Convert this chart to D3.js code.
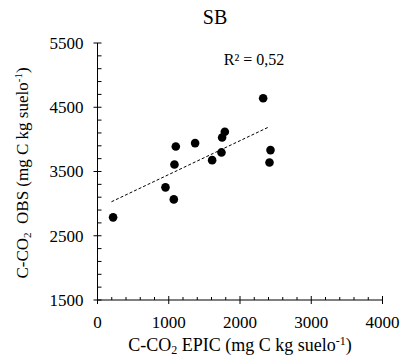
<!DOCTYPE html>
<html>
<head>
<meta charset="utf-8">
<script src="https://cdn.jsdelivr.net/npm/d3@7"></script>
<style>
  body { margin: 0; background: #fff; }
</style>
</head>
<body>
<svg id="chart" width="404" height="361" font-family="'Liberation Serif', 'Times New Roman', serif"></svg>
<script>
// data
var epic = [219, 954, 1071, 1080, 1099, 1370, 1609, 1740, 1749, 1787, 2325, 2428, 2414];
var obs  = [2786, 3253, 3066, 3610, 3890, 3942, 3677, 3797, 4030, 4118, 4641, 3833, 3641];
var trendX = [196, 2409];
var trendY = [3029, 4195];
var xTicks = [0, 1000, 2000, 3000, 4000];
var yTicks = [1500, 2500, 3500, 4500, 5500];
var r2Label = "R² = 0,52";

var svg = d3.select("#chart");

// scales
var x = d3.scaleLinear().domain([0, 4000]).range([97.5, 382.5]);
var y = d3.scaleLinear().domain([1500, 5500]).range([300, 43]);

var minorX = d3.range(0, 4001, 200).filter(function(d){ return d % 1000 !== 0 });
var minorY = d3.range(1500, 5501, 200).filter(function(d){ return (d - 1500) % 1000 !== 0 });

// x axis
var gx = svg.append("g").attr("transform", "translate(0,300)");
gx.append("line").attr("x1", x(0)).attr("x2", x(4000)).attr("stroke", "#000");
gx.selectAll(".maj").data(xTicks).enter().append("line")
  .attr("x1", function(d){ return x(d) }).attr("x2", function(d){ return x(d) })
  .attr("y1", -4).attr("y2", 4).attr("stroke", "#000");
gx.selectAll(".min").data(minorX).enter().append("line")
  .attr("x1", function(d){ return x(d) }).attr("x2", function(d){ return x(d) })
  .attr("y1", -3).attr("y2", 0).attr("stroke", "#000");
gx.selectAll(".lab").data(xTicks).enter().append("text")
  .attr("x", function(d){ return x(d) }).attr("y", 28)
  .attr("text-anchor", "middle").style("font-size", "17px")
  .text(function(d){ return d });

// y axis
var gy = svg.append("g").attr("transform", "translate(" + x(0) + ",0)");
gy.append("line").attr("y1", y(1500)).attr("y2", y(5500)).attr("stroke", "#000");
gy.selectAll(".maj").data(yTicks).enter().append("line")
  .attr("y1", function(d){ return y(d) }).attr("y2", function(d){ return y(d) })
  .attr("x1", -4).attr("x2", 4).attr("stroke", "#000");
gy.selectAll(".min").data(minorY).enter().append("line")
  .attr("y1", function(d){ return y(d) }).attr("y2", function(d){ return y(d) })
  .attr("x1", 0).attr("x2", 4).attr("stroke", "#000");
gy.selectAll(".lab").data(yTicks).enter().append("text")
  .attr("x", -14).attr("y", function(d){ return y(d) }).attr("dy", "0.35em")
  .attr("text-anchor", "end").style("font-size", "17px")
  .text(function(d){ return d });

// trend line
svg.append("line")
  .attr("x1", x(trendX[0])).attr("y1", y(trendY[0]))
  .attr("x2", x(trendX[1])).attr("y2", y(trendY[1]))
  .attr("stroke", "#000").attr("stroke-width", 1)
  .style("stroke-dasharray", "3,2");

// points
svg.selectAll(".pt").data(epic).enter().append("circle")
  .attr("cx", function(d){ return x(d) })
  .attr("cy", function(d, i){ return y(obs[i]) })
  .attr("r", 4.3)
  .style("fill", "#000");

// title
svg.append("text").attr("x", 215).attr("y", 24)
  .attr("text-anchor", "middle").style("font-size", "20px").text("SB");

// r squared
svg.append("text").attr("x", 254).attr("y", 65)
  .attr("text-anchor", "middle").style("font-size", "16px").text(r2Label);

// x label
var xl = svg.append("text").attr("x", 240).attr("y", 351)
  .attr("text-anchor", "middle").style("font-size", "18px");
xl.append("tspan").text("C-CO");
xl.append("tspan").attr("dy", 3).style("font-size", "12px").text("2");
xl.append("tspan").attr("dy", -3).text(" EPIC (mg C kg suelo");
xl.append("tspan").attr("dy", -6).style("font-size", "12px").text("-1");
xl.append("tspan").attr("dy", 6).text(")");

// y label
var yl = svg.append("text")
  .attr("transform", "translate(28,173) rotate(-90)")
  .attr("text-anchor", "middle").style("font-size", "17px");
yl.append("tspan").text("C-CO");
yl.append("tspan").attr("dy", 3).style("font-size", "11px").text("2");
yl.append("tspan").attr("dy", -3).text("\u00a0 OBS (mg C kg suelo");
yl.append("tspan").attr("dy", -6).style("font-size", "11px").text("-1");
yl.append("tspan").attr("dy", 6).text(")");
</script>
</body>
</html>
